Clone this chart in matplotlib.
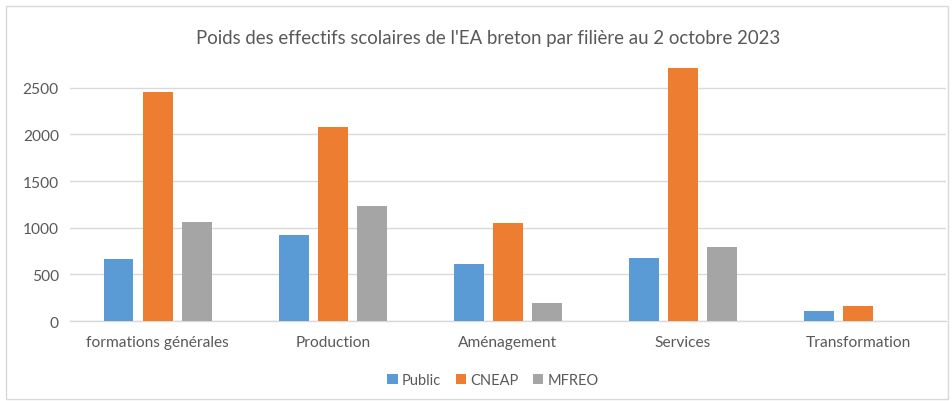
import matplotlib
matplotlib.use('Agg')
import matplotlib.pyplot as plt
from matplotlib.patches import Rectangle
import numpy as np

categories = ['formations générales', 'Production', 'Aménagement', 'Services', 'Transformation']
public = [660, 923, 612, 676, 104]
cneap = [2454, 2082, 1051, 2715, 164]
mfreo = [1059, 1237, 190, 794, 0]
series = ['Public', 'CNEAP', 'MFREO']
colors = ['#5B9BD5', '#ED7D31', '#A5A5A5']
yticks = [0, 500, 1000, 1500, 2000, 2500]

plt.rcParams['font.family'] = ['Lato', 'DejaVu Sans']
txt = '#595959'

fig = plt.figure(figsize=(9.52, 4.02), dpi=100)
fig.patches.append(Rectangle((0.006, 0.004), 0.99, 0.978, transform=fig.transFigure,
                             fill=False, edgecolor='#D9D9D9', linewidth=1))
ax = fig.add_axes([0.0735, 0.199, 0.92, 0.652])

x = np.arange(len(categories))
w = 0.171
step = 0.223
for i, (vals, name, c) in enumerate(zip([public, cneap, mfreo], series, colors)):
    ax.bar(x + (i - 1) * step, vals, width=w, color=c, label=name, zorder=3)

ax.set_xlim(-0.5, len(categories) - 0.5)
ax.set_ylim(0, 2810)
ax.set_yticks(yticks)
ax.set_xticks(x)
ax.set_xticklabels(categories)
ax.grid(axis='y', color='#D9D9D9', linewidth=1, zorder=0)
for s in ['top', 'right', 'left']:
    ax.spines[s].set_visible(False)
ax.spines['bottom'].set_color('#D9D9D9')
ax.spines['bottom'].set_linewidth(1)
ax.tick_params(length=0, labelsize=11.2, colors=txt, pad=8)
ax.tick_params(axis='x', pad=10)

fig.text(0.5126, 0.905, "Poids des effectifs scolaires de l'EA breton par filière au 2 octobre 2023",
         ha='center', va='center', fontsize=13.4, color=txt)
fig.legend(loc='center', bbox_to_anchor=(0.518, 0.052), ncol=3, frameon=False,
           fontsize=10.5, labelcolor=txt, handlelength=0.7, handleheight=0.7,
           handletextpad=0.3, columnspacing=1.0)

fig.savefig('out.png', dpi=100)
